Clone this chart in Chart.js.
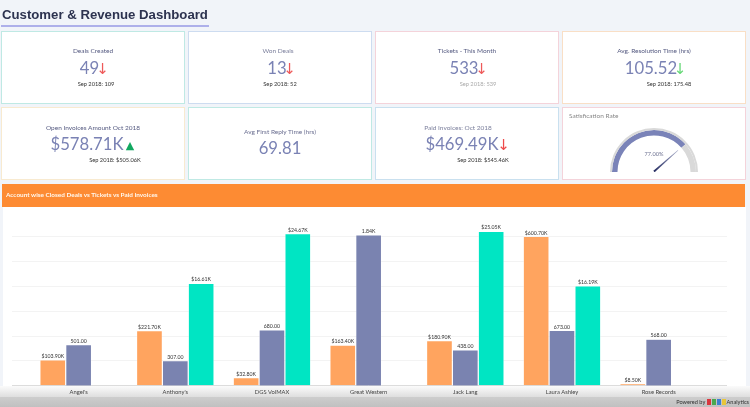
<!DOCTYPE html>
<html>
<head>
<meta charset="utf-8">
<title>Customer &amp; Revenue Dashboard</title>
<script src="https://cdn.jsdelivr.net/npm/chart.js@4"></script>
<style>
  html, body { margin: 0; padding: 0; }
  body { width: 750px; height: 407px; overflow: hidden; background: #f1f4f9; font-family: Lato, sans-serif; position: relative; }
  #page { position: absolute; left: 0; top: 0; width: 750px; height: 407px; filter: blur(0.45px); }
  h1 { position: absolute; left: 2px; top: 7px; margin: 0; font: bold 13.2px "Liberation Sans", sans-serif; color: #2d3350; white-space: nowrap; }
  #rule { position: absolute; left: 1px; top: 25px; width: 208px; height: 2px; background: #aeb0ea; }
  .card { position: absolute; box-sizing: border-box; background: #fff; border: 1.5px solid; height: 73px; width: 184px; }
  .t { position: absolute; white-space: nowrap; transform: translate(-50%, -50%); line-height: 1; }
  .lab { font-size: 6.5px; color: #555a80; }
  .num { font-size: 16.7px; color: #7a82b4; }
  .cmp { font-size: 5.7px; color: #333; }
  .arr { font: 15px "DejaVu Sans", sans-serif; color: #ee5a5a; }
  #band { position: absolute; left: 2px; top: 184px; width: 743px; height: 23px; background: #fd8b33; }
  #band span { position: absolute; left: 4px; top: 8px; font-size: 6.4px; line-height: 1; font-weight: 700; color: #fff8ef; white-space: nowrap; }
  #panel { position: absolute; left: 3px; top: 207px; width: 743px; height: 179px; background: #fff; }
  #foot1 { position: absolute; left: 0; top: 386px; width: 750px; height: 11px; background: linear-gradient(#fbfbfb, #dedede); }
  #foot2 { position: absolute; left: 0; top: 397px; width: 750px; height: 10px; background: linear-gradient(#cdcdcd, #c0c0c0); }
  #barChart { position: absolute; left: 0; top: 207px; }
  #gauge { position: absolute; left: 610px; top: 128px; }
  #powered { position: absolute; right: 1px; top: 399px; font-size: 5.6px; line-height: 1; color: #333; white-space: nowrap; }
  #powered i { display: inline-block; width: 4px; height: 6px; vertical-align: -1px; margin-right: 1px; }
</style>
</head>
<body>
<div id="page">
  <h1>Customer &amp; Revenue Dashboard</h1>
  <div id="rule"></div>

  <div class="card" style="left:1px;top:31px;border-color:#bfe9e4"></div>
  <div class="card" style="left:188px;top:31px;border-color:#cddcf0"></div>
  <div class="card" style="left:375px;top:31px;border-color:#f4d3da"></div>
  <div class="card" style="left:562px;top:31px;border-color:#f9dfc6"></div>
  <div class="card" style="left:1px;top:107px;border-color:#f8ead0"></div>
  <div class="card" style="left:188px;top:107px;border-color:#bfe9e4"></div>
  <div class="card" style="left:375px;top:107px;border-color:#c9e0ef"></div>
  <div class="card" style="left:562px;top:107px;border-color:#f4d3da"></div>

  <div class="t lab" style="left:93px;top:51px">Deals Created</div>
  <div class="t num" style="left:89.5px;top:68px">49</div>
  <div class="t arr" style="left:102.5px;top:69px">↓</div>
  <div class="t cmp" style="left:96px;top:84px">Sep 2018: 109</div>

  <div class="t lab" style="left:278px;top:51px;color:#7b7f9c">Won Deals</div>
  <div class="t num" style="left:277px;top:68px">13</div>
  <div class="t arr" style="left:289.5px;top:69px">↓</div>
  <div class="t cmp" style="left:280px;top:84px">Sep 2018: 52</div>

  <div class="t lab" style="left:467px;top:51px">Tickets - This Month</div>
  <div class="t num" style="left:464px;top:68px">533</div>
  <div class="t arr" style="left:481.5px;top:69px">↓</div>
  <div class="t cmp" style="left:478px;top:84px;color:#aaa">Sep 2018: 539</div>

  <div class="t lab" style="left:654px;top:51px">Avg. Resolution Time (hrs)</div>
  <div class="t num" style="left:651px;top:68px">105.52</div>
  <div class="t arr" style="left:680px;top:69px;color:#66d877">↓</div>
  <div class="t cmp" style="left:669px;top:84px">Sep 2018: 175.48</div>

  <div class="t lab" style="left:93px;top:128px">Open Invoices Amount Oct 2018</div>
  <div class="t num" style="left:87px;top:144px">$578.71K</div>
  <div class="t" style="left:130px;top:145px;font:11px 'DejaVu Sans',sans-serif;color:#12a860">▲</div>
  <div class="t cmp" style="left:115px;top:160px">Sep 2018: $505.06K</div>

  <div class="t lab" style="left:280px;top:132px;color:#6a6e90">Avg First Reply Time (hrs)</div>
  <div class="t num" style="left:280px;top:148px">69.81</div>

  <div class="t lab" style="left:458px;top:128px;color:#7b7f9c">Paid Invoices: Oct 2018</div>
  <div class="t num" style="left:462px;top:144px">$469.49K</div>
  <div class="t arr" style="left:503.5px;top:145px;color:#ee4a4a">↓</div>
  <div class="t cmp" style="left:483px;top:160px">Sep 2018: $545.46K</div>

  <div class="t" style="left:569px;top:116px;transform:translateY(-50%);font-size:6.5px;color:#888">Satisfication Rate</div>
  <canvas id="gauge" width="88" height="44"></canvas>
  <div class="t" style="left:654px;top:154px;font-size:5.6px;color:#6c7090">77.00%</div>

  <div id="band"><span>Account wise Closed Deals vs Tickets vs Paid Invoices</span></div>
  <div id="panel"></div>
  <div id="foot1"></div>
  <div id="foot2"></div>
  <canvas id="barChart" width="750" height="190"></canvas>
  <div id="powered">Powered by <i style="background:#d9363e"></i><i style="background:#4aa84f"></i><i style="background:#3f7fd0"></i><i style="background:#e8c53a"></i>Analytics</div>
</div>

<script>
const contas = ["Angel's", "Anthony's", "DGS VolMAX", "Great Western", "Jack Lang", "Laura Ashley", "Rose Records"];
const closedDeals = [103.9, 221.7, 32.8, 163.4, 180.9, 600.7, 8.5];   // $K
const tickets = [501, 307, 680, 1840, 438, 673, 568];
const paidInvoices = [null, 16.61, 24.67, null, 25.05, 16.19, null];  // $K
const satisfacao = [77, 23];

function emK(v) { return '$' + v.toFixed(2) + 'K'; }
function emTickets(v) { return v >= 1000 ? (v / 1000).toFixed(2) + 'K' : v.toFixed(2); }

const rotulosBarras = {
  id: 'rotulosBarras',
  afterDatasetsDraw(chart) {
    const ctx = chart.ctx;
    ctx.save();
    ctx.font = '5.2px Lato';
    ctx.fillStyle = '#333';
    ctx.textAlign = 'center';
    ctx.textBaseline = 'bottom';
    chart.data.datasets.forEach((ds, i) => {
      chart.getDatasetMeta(i).data.forEach((bar, j) => {
        if (ds.data[j] === null) return;
        ctx.fillText(ds.fmt(ds.data[j]), bar.x, bar.y - 1);
      });
    });
    ctx.restore();
  }
};

new Chart(document.getElementById('barChart'), {
  type: 'bar',
  data: {
    labels: contas,
    datasets: [
      { data: closedDeals, yAxisID: 'yDeals', backgroundColor: '#ffa45f', fmt: emK },
      { data: tickets, yAxisID: 'yTickets', backgroundColor: '#7a83b0', fmt: emTickets },
      { data: paidInvoices, yAxisID: 'yPaid', backgroundColor: '#00e5c3', fmt: emK }
    ]
  },
  options: {
    responsive: false,
    animation: false,
    datasets: { bar: { categoryPercentage: 0.802, barPercentage: 1, borderWidth: 0.6, borderColor: 'rgba(255,255,255,0.7)' } },
    layout: { padding: { left: 12, right: 23, top: 9.8, bottom: 0 } },
    plugins: { legend: { display: false }, tooltip: { enabled: false } },
    scales: {
      x: {
        grid: { display: false, drawTicks: false },
        border: { display: false },
        ticks: { font: { family: 'Lato', size: 5.8 }, color: '#444', padding: 2.5, maxRotation: 0, autoSkip: false },
        afterFit(s) { s.height = 11.3; }
      },
      yDeals: {
        position: 'left', min: 0, max: 680,
        border: { display: false },
        grid: {
          tickLength: 18.3,
          color: c => c.tick.value === 0 ? '#dcdcdc' : '#f3f3f3'
        },
        ticks: { display: false, stepSize: 100, includeBounds: false, autoSkip: false },
        afterFit(s) { s.width = 18.3; }
      },
      yTickets: { display: false, min: 0, max: 2060 },
      yPaid: {
        position: 'right', min: 0, max: 27.4,
        border: { display: false },
        grid: {
          drawOnChartArea: false,
          tickLength: 20,
          color: c => c.tick.value === 0 ? '#dcdcdc' : '#f3f3f3'
        },
        ticks: { display: false, stepSize: 27.4 / 6.8, includeBounds: false, autoSkip: false },
        afterFit(s) { s.width = 20; }
      }
    }
  },
  plugins: [rotulosBarras]
});

const ponteiro = {
  id: 'ponteiro',
  afterDatasetsDraw(chart) {
    const arc = chart.getDatasetMeta(0).data[0];
    const frac = satisfacao[0] / (satisfacao[0] + satisfacao[1]);
    const ang = Math.PI * (1 + frac);
    const tam = arc.outerRadius * 0.73;
    const ctx = chart.ctx;
    ctx.save();
    ctx.translate(arc.x, arc.y - 0.5);
    ctx.rotate(ang);
    const g = ctx.createLinearGradient(0, 0, tam, 0);
    g.addColorStop(0, '#232a60');
    g.addColorStop(1, '#a9aeca');
    ctx.fillStyle = g;
    ctx.beginPath();
    ctx.moveTo(0, -1);
    ctx.lineTo(tam, -0.2);
    ctx.lineTo(tam, 0.2);
    ctx.lineTo(0, 1);
    ctx.fill();
    ctx.restore();
  }
};

new Chart(document.getElementById('gauge'), {
  type: 'doughnut',
  data: {
    datasets: [
      { data: [100], backgroundColor: ['#d9d9d9'], weight: 2 },
      { data: satisfacao, backgroundColor: ['#7a83b8', '#d9d9d9'], weight: 5.5 }
    ]
  },
  options: {
    responsive: false,
    animation: false,
    rotation: -90,
    circumference: 180,
    cutout: '83%',
    borderWidth: 0,
    layout: { padding: 0 },
    plugins: { legend: { display: false }, tooltip: { enabled: false } }
  },
  plugins: [ponteiro]
});
</script>
</body>
</html>
